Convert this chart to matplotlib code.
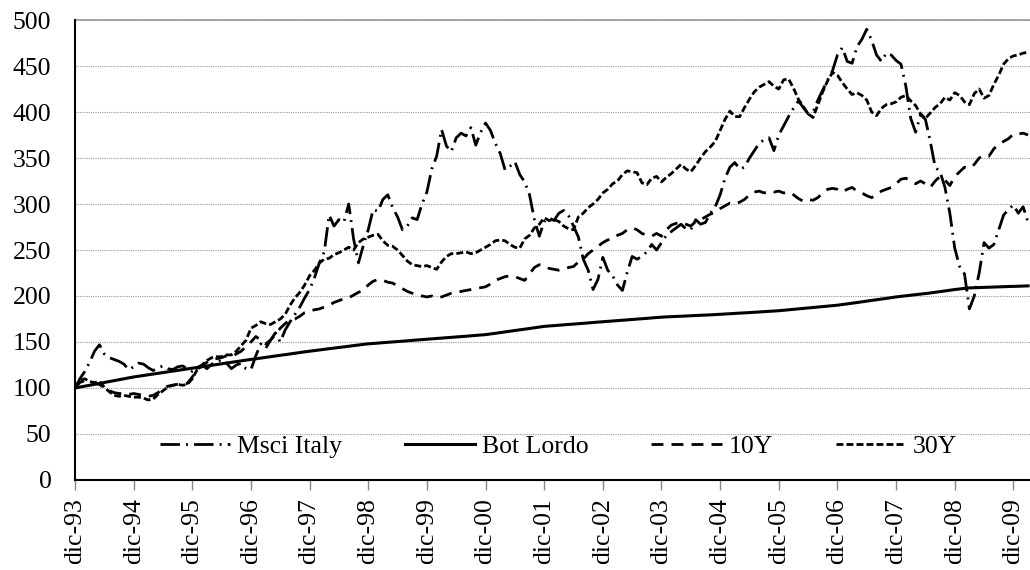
import numpy as np
import matplotlib.pyplot as plt

# monthly index values, dic-93 = 100 (one row per year, starting in December)
tick_labels = ['dic-93', 'dic-94', 'dic-95', 'dic-96', 'dic-97', 'dic-98', 'dic-99', 'dic-00',
               'dic-01', 'dic-02', 'dic-03', 'dic-04', 'dic-05', 'dic-06', 'dic-07', 'dic-08', 'dic-09']

msci = [100, 110, 118, 128, 140, 147, 137, 133, 131, 129, 126, 120,
        123, 127, 126, 122, 119, 122, 124, 121, 120, 123, 124, 121,
        118, 122, 125, 121, 126, 128, 131, 127, 121, 125, 127, 121,
        120, 135, 148, 143, 152, 160, 150, 163, 172, 180, 188, 198,
        207, 220, 236, 248, 288, 276, 283, 280, 300, 262, 236, 255,
        272, 294, 292, 305, 310, 296, 286, 272, 276, 285, 283, 300,
        313, 338, 352, 381, 363, 357, 372, 377, 374, 383, 364, 378,
        388, 380, 366, 355, 337, 341, 346, 332, 324, 310, 283, 265,
        281, 285, 282, 290, 293, 287, 276, 264, 240, 228, 207, 218,
        242, 228, 222, 212, 206, 226, 243, 240, 243, 248, 256, 250,
        258, 266, 270, 274, 278, 273, 272, 283, 278, 280, 290, 297,
        310, 328, 340, 345, 338, 340, 350, 358, 366, 370, 372, 358,
        375, 385, 395, 404, 412, 405, 398, 400, 413, 424, 435, 445,
        462, 470, 455, 453, 471, 479, 490, 478, 462, 455, 464, 462,
        456, 452, 428, 393, 378, 397, 392, 368, 340, 335, 318, 290,
        252, 232, 224, 186, 200, 225, 258, 252, 256, 272, 288, 294,
        299, 290, 297, 280]

bot_lordo = [100, 101, 102, 103, 104, 105, 106, 107, 108, 109, 110, 111,
             112, 112.8, 113.6, 114.4, 115.2, 116.0, 116.8, 117.6, 118.4, 119.2, 120.0, 120.8,
             121.5, 122.3, 123.1, 123.9, 124.7, 125.5, 126.3, 127.1, 127.9, 128.7, 129.5, 130.3,
             131.0, 131.8, 132.5, 133.3, 134.0, 134.8, 135.5, 136.3, 137.0, 137.8, 138.5, 139.3,
             140.0, 140.7, 141.4, 142.0, 142.7, 143.4, 144.0, 144.7, 145.4, 146.0, 146.7, 147.4,
             148.0, 148.4, 148.8, 149.3, 149.7, 150.1, 150.5, 150.9, 151.3, 151.8, 152.2, 152.6,
             153.0, 153.4, 153.8, 154.2, 154.7, 155.1, 155.5, 155.9, 156.3, 156.7, 157.2, 157.6,
             158.0, 158.7, 159.5, 160.2, 161.0, 161.7, 162.5, 163.2, 164.0, 164.7, 165.5, 166.2,
             167.0, 167.4, 167.8, 168.3, 168.7, 169.1, 169.5, 169.9, 170.3, 170.8, 171.2, 171.6,
             172.0, 172.4, 172.8, 173.2, 173.7, 174.1, 174.5, 174.9, 175.3, 175.7, 176.2, 176.6,
             177.0, 177.3, 177.5, 177.8, 178.0, 178.3, 178.5, 178.8, 179.0, 179.3, 179.5, 179.8,
             180.0, 180.3, 180.7, 181.0, 181.3, 181.7, 182.0, 182.3, 182.7, 183.0, 183.3, 183.7,
             184.0, 184.5, 185.0, 185.5, 186.0, 186.5, 187.0, 187.5, 188.0, 188.5, 189.0, 189.5,
             190.0, 190.7, 191.4, 192.2, 192.9, 193.7, 194.4, 195.2, 195.9, 196.7, 197.4, 198.2,
             199.0, 199.6, 200.2, 200.8, 201.4, 202.0, 202.6, 203.3, 204.0, 204.8, 205.5, 206.3,
             207.0, 207.7, 208.3, 208.8, 209.0, 209.2, 209.4, 209.6, 209.8, 210.0, 210.1, 210.3,
             210.4, 210.6, 210.8, 211.0]

btp_10y = [100, 106, 108, 107, 105, 104, 100, 97, 95, 94, 94, 93,
           94, 93, 92, 91, 92, 95, 99, 102, 103, 104, 104, 105,
           112, 120, 124, 128, 131, 132, 133, 135, 134, 137, 140, 145,
           150, 156, 152, 148, 152, 158, 165, 170, 174, 175, 178, 182,
           184, 185, 186, 188, 190, 193, 195, 197, 198, 201, 204, 206,
           212, 216, 218, 217, 215, 214, 211, 208, 205, 203, 201, 200,
           199, 200, 198, 199, 201, 203, 204, 205, 206, 207, 208, 209,
           210, 213, 217, 219, 221, 222, 221, 219, 217, 224, 231, 234,
           233, 230, 229, 228, 229, 231, 232, 237, 240, 246, 250, 254,
           258, 261, 262, 266, 268, 272, 274, 272, 268, 266, 265, 268,
           265, 272, 277, 279, 280, 278, 276, 281, 283, 286, 289, 291,
           295, 298, 301, 300, 302, 305, 310, 313, 314, 312, 314, 313,
           314, 312, 313, 310, 306, 303, 305, 304, 307, 312, 316, 317,
           316, 313, 316, 318, 314, 312, 309, 307, 310, 314, 316, 318,
           322, 327, 328, 325, 322, 325, 322, 318, 325, 330, 326, 320,
           330, 335, 340, 339, 343, 350, 353, 352, 360, 365, 368, 371,
           376, 376, 377, 375]

btp_30y = [100, 108, 110, 107, 106, 107, 101, 96, 92, 91, 92, 91,
           90, 90, 89, 87, 88, 93, 97, 101, 103, 104, 103, 104,
           110, 120, 125, 130, 133, 134, 134, 136, 136, 140, 146, 152,
           165, 168, 172, 170, 169, 172, 175, 180, 190, 198, 204, 212,
           222, 228, 236, 240, 241, 245, 247, 250, 253, 250, 258, 262,
           264, 266, 267, 260, 255, 254, 250, 244, 238, 234, 233, 232,
           233, 231, 229, 237, 243, 246, 246, 247, 248, 246, 247, 250,
           253, 256, 260, 261, 260, 256, 253, 252, 262, 266, 274, 278,
           285, 282, 283, 281, 276, 273, 272, 286, 290, 296, 300, 305,
           312, 316, 322, 325, 332, 336, 335, 334, 323, 321, 328, 330,
           324, 329, 333, 338, 343, 338, 335, 342, 350, 357, 362, 368,
           380, 392, 401, 395, 395, 405, 414, 422, 427, 430, 433, 428,
           425, 435, 436, 426, 414, 406, 398, 394, 408, 422, 434, 443,
           440, 432, 425, 419, 421, 418, 413, 400, 396, 404, 408, 409,
           411, 416, 418, 412, 407, 398, 393, 399, 405, 409, 416, 413,
           421, 418, 411, 408, 420, 425, 415, 418, 430, 440, 452, 458,
           461, 462, 464, 465]

x = np.arange(len(msci))

plt.rcParams['font.family'] = ['Liberation Serif', 'DejaVu Serif']

fig = plt.figure(figsize=(10.3, 5.7), dpi=100)
ax = fig.add_axes([75 / 1030, 90 / 570, 955 / 1030, 460 / 570])

ax.plot(x, msci, color='black', lw=2, dashes=(7, 2.2, 0.7, 2.2), label='Msci Italy')
ax.plot(x, bot_lordo, color='black', lw=2.2, label='Bot Lordo')
ax.plot(x, btp_10y, color='black', lw=2, dashes=(4.3, 2.9), label='10Y')
ax.plot(x, btp_30y, color='black', lw=2, dashes=(2.5, 1.1), label='30Y')

ax.set_xlim(0, 195.4)
ax.set_ylim(0, 500)
ax.set_yticks(range(0, 501, 50))
ax.set_xticks(range(0, 193, 12))
ax.set_xticklabels(tick_labels, rotation=90)

ax.set_axisbelow(True)
ax.grid(axis='y', color='#9a9a9a', ls=(0, (1, 1)), lw=0.8)
ax.axhline(500, color='#9a9a9a', lw=1.2, clip_on=False)

for s in ['top', 'right']:
    ax.spines[s].set_visible(False)
for s in ['left', 'bottom']:
    ax.spines[s].set_color('black')
    ax.spines[s].set_linewidth(1.5)

ax.tick_params(axis='y', length=0, pad=17, labelsize=18.5)
ax.tick_params(axis='x', length=7, width=1, color='#888888', labelsize=18.5, pad=6)

ax.legend(loc='center', bbox_to_anchor=(0.506, 0.072), ncol=4, frameon=False,
          fontsize=18.5, handlelength=2.75, handletextpad=0.25, columnspacing=2.45)

fig.savefig('out.png', dpi=100)
